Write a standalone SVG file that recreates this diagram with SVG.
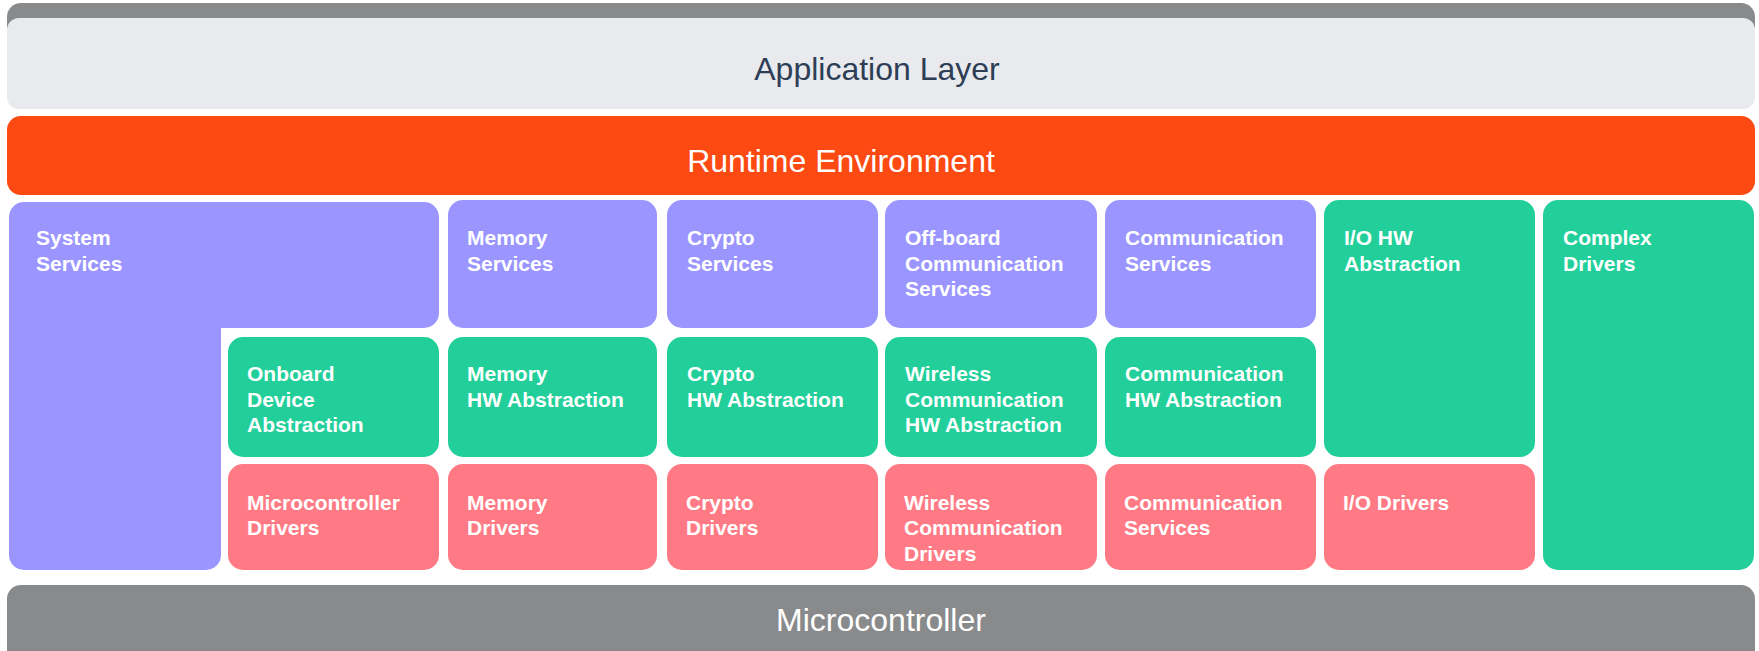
<svg xmlns="http://www.w3.org/2000/svg" width="1759" height="651" viewBox="0 0 1759 651">
<style>
.svc{fill:#9A95FF}
.hw{fill:#22CF9A}
.drv{fill:#FF7A84}
.lbl{font-family:"Liberation Sans",Arial,sans-serif;font-size:21px;font-weight:bold;fill:#FFFFFF}
.big{font-family:"Liberation Sans",Arial,sans-serif;font-size:32px;text-anchor:middle}
</style>
<rect width="1759" height="651" fill="#FFFFFF"/>
<g id="app-layer">
<rect x="7" y="3" width="1748" height="40" rx="14" fill="#898A8C"/>
<rect x="7" y="18" width="1748" height="91" rx="12" fill="#E8EAEE"/>
<text class="big" x="877" y="80" fill="#2D3E55">Application Layer</text>
</g>
<g id="rte">
<rect x="7" y="116" width="1748" height="79" rx="14" fill="#FD4A12"/>
<text class="big" x="841" y="171.5" fill="#FFFFFF">Runtime Environment</text>
</g>
<g id="system-services">
<path class="svc" d="M24,202 H424 A15,15 0 0 1 439,217 V313 A15,15 0 0 1 424,328 H221 V555 A15,15 0 0 1 206,570 H24 A15,15 0 0 1 9,555 V217 A15,15 0 0 1 24,202 Z"/>
<text class="lbl" x="36" y="245">System</text>
<text class="lbl" x="36" y="271">Services</text>
</g>
<g id="onboard-device-abstraction">
<rect class="hw" x="228" y="337" width="211" height="120" rx="15"/>
<text class="lbl" x="247" y="381">Onboard</text>
<text class="lbl" x="247" y="406.5">Device</text>
<text class="lbl" x="247" y="432">Abstraction</text>
</g>
<g id="microcontroller-drivers">
<rect class="drv" x="228" y="464" width="211" height="106" rx="15"/>
<text class="lbl" x="247" y="509.5">Microcontroller</text>
<text class="lbl" x="247" y="535">Drivers</text>
</g>
<g id="memory-services">
<rect class="svc" x="448" y="200" width="209" height="128" rx="15"/>
<text class="lbl" x="467" y="245">Memory</text>
<text class="lbl" x="467" y="271">Services</text>
</g>
<g id="memory-hw-abstraction">
<rect class="hw" x="448" y="337" width="209" height="120" rx="15"/>
<text class="lbl" x="467" y="381">Memory</text>
<text class="lbl" x="467" y="406.5">HW Abstraction</text>
</g>
<g id="memory-drivers">
<rect class="drv" x="448" y="464" width="209" height="106" rx="15"/>
<text class="lbl" x="467" y="509.5">Memory</text>
<text class="lbl" x="467" y="535">Drivers</text>
</g>
<g id="crypto-services">
<rect class="svc" x="667" y="200" width="211" height="128" rx="15"/>
<text class="lbl" x="687" y="245">Crypto</text>
<text class="lbl" x="687" y="271">Services</text>
</g>
<g id="crypto-hw-abstraction">
<rect class="hw" x="667" y="337" width="211" height="120" rx="15"/>
<text class="lbl" x="687" y="381">Crypto</text>
<text class="lbl" x="687" y="406.5">HW Abstraction</text>
</g>
<g id="crypto-drivers">
<rect class="drv" x="667" y="464" width="211" height="106" rx="15"/>
<text class="lbl" x="686" y="509.5">Crypto</text>
<text class="lbl" x="686" y="535">Drivers</text>
</g>
<g id="offboard-communication-services">
<rect class="svc" x="885" y="200" width="212" height="128" rx="15"/>
<text class="lbl" x="905" y="245">Off-board</text>
<text class="lbl" x="905" y="271">Communication</text>
<text class="lbl" x="905" y="296">Services</text>
</g>
<g id="wireless-communication-hw-abstraction">
<rect class="hw" x="885" y="337" width="212" height="120" rx="15"/>
<text class="lbl" x="905" y="381">Wireless</text>
<text class="lbl" x="905" y="406.5">Communication</text>
<text class="lbl" x="905" y="432">HW Abstraction</text>
</g>
<g id="wireless-communication-drivers">
<rect class="drv" x="885" y="464" width="212" height="106" rx="15"/>
<text class="lbl" x="904" y="509.5">Wireless</text>
<text class="lbl" x="904" y="535">Communication</text>
<text class="lbl" x="904" y="561">Drivers</text>
</g>
<g id="communication-services">
<rect class="svc" x="1105" y="200" width="211" height="128" rx="15"/>
<text class="lbl" x="1125" y="245">Communication</text>
<text class="lbl" x="1125" y="271">Services</text>
</g>
<g id="communication-hw-abstraction">
<rect class="hw" x="1105" y="337" width="211" height="120" rx="15"/>
<text class="lbl" x="1125" y="381">Communication</text>
<text class="lbl" x="1125" y="406.5">HW Abstraction</text>
</g>
<g id="communication-drivers">
<rect class="drv" x="1105" y="464" width="211" height="106" rx="15"/>
<text class="lbl" x="1124" y="509.5">Communication</text>
<text class="lbl" x="1124" y="535">Services</text>
</g>
<g id="io-hw-abstraction">
<rect class="hw" x="1324" y="200" width="211" height="257" rx="15"/>
<text class="lbl" x="1344" y="245">I/O HW</text>
<text class="lbl" x="1344" y="271">Abstraction</text>
</g>
<g id="io-drivers">
<rect class="drv" x="1324" y="464" width="211" height="106" rx="15"/>
<text class="lbl" x="1343" y="509.5">I/O Drivers</text>
</g>
<g id="complex-drivers">
<rect class="hw" x="1543" y="200" width="211" height="370" rx="15"/>
<text class="lbl" x="1563" y="245">Complex</text>
<text class="lbl" x="1563" y="271">Drivers</text>
</g>
<g id="microcontroller">
<rect x="7" y="585" width="1748" height="80" rx="14" fill="#898A8C"/>
<text class="big" x="881" y="631" fill="#FFFFFF">Microcontroller</text>
</g>
<g id="connectors"/>
</svg>
